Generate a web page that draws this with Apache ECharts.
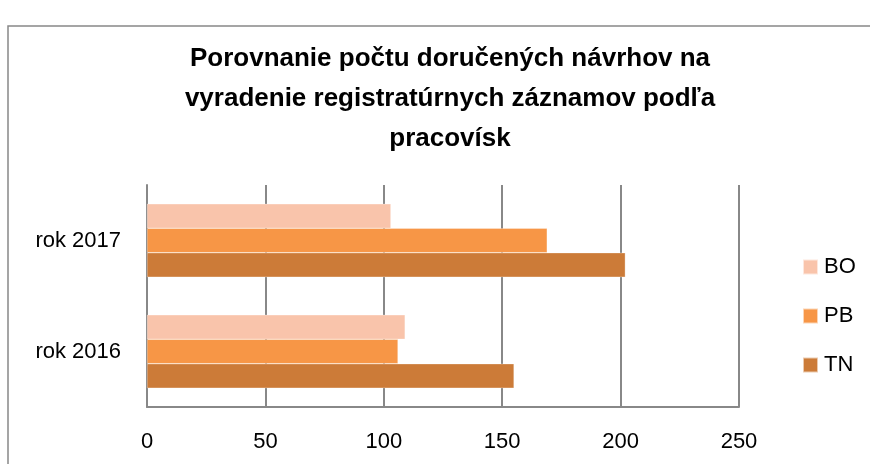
<!DOCTYPE html>
<html><head><meta charset="utf-8">
<script src="https://cdn.jsdelivr.net/npm/echarts@6/dist/echarts.min.js"></script>
<style>html,body{margin:0;padding:0;background:#fff}#c{width:870px;height:464px}</style>
</head><body><div id="c"></div>
<script>
const categories = ['rok 2016', 'rok 2017'];
const seriesNames = ['BO', 'PB', 'TN'];
const BO = [109, 103];
const PB = [106, 169];
const TN = [155, 202];
const xTicks = [0, 50, 100, 150, 200, 250];

const colors = { BO: '#F9C4AB', PB: '#F79646', TN: '#CC7B38' };
const values = { BO: BO, PB: PB, TN: TN };
const font = '"Liberation Sans", Arial, sans-serif';

const chart = echarts.init(document.getElementById('c'), null, { renderer: 'canvas' });
chart.setOption({
  animation: false,
  backgroundColor: '#fff',
  graphic: [{
    type: 'rect', shape: { x: 8, y: 26, width: 900, height: 500 },
    style: { fill: 'none', stroke: '#888', lineWidth: 1.5 }, z: -1
  }],
  title: {
    text: 'Porovnanie počtu doručených návrhov na\nvyradenie registratúrnych záznamov podľa\npracovísk',
    left: 445, top: 34, textAlign: 'center',
    textStyle: { fontFamily: font, fontWeight: 'bold', fontSize: 26, lineHeight: 40, color: '#000' }
  },
  legend: {
    data: seriesNames, orient: 'vertical', left: 797, top: 251,
    itemWidth: 15, itemHeight: 15, itemGap: 27, icon: 'rect',
    textStyle: { fontFamily: font, fontSize: 22, color: '#000', padding: [0, 0, 0, 1] }
  },
  grid: { left: 147, right: 131, top: 185, bottom: 57, containLabel: false },
  xAxis: {
    type: 'value', min: 0, max: 250, interval: 50,
    axisLine: { show: true, lineStyle: { color: '#888', width: 2 } },
    axisTick: { show: false },
    splitLine: { lineStyle: { color: '#888', width: 2 } },
    axisLabel: { fontFamily: font, fontSize: 22, color: '#000', margin: 24,
      formatter: v => xTicks.includes(v) ? String(v) : '' }
  },
  yAxis: {
    type: 'category', data: categories,
    axisLine: { show: true, lineStyle: { color: '#888', width: 2 } },
    axisTick: { show: false },
    axisLabel: { fontFamily: font, fontSize: 22, color: '#000', margin: 26 }
  },
  series: ['BO', 'PB', 'TN'].map(n => ({
    name: n, type: 'bar', data: values[n],
    barGap: '0%', barCategoryGap: '34%',
    itemStyle: { color: colors[n], borderColor: 'rgba(255,255,255,0.6)', borderWidth: 0.5 }
  }))
});
</script></body></html>
